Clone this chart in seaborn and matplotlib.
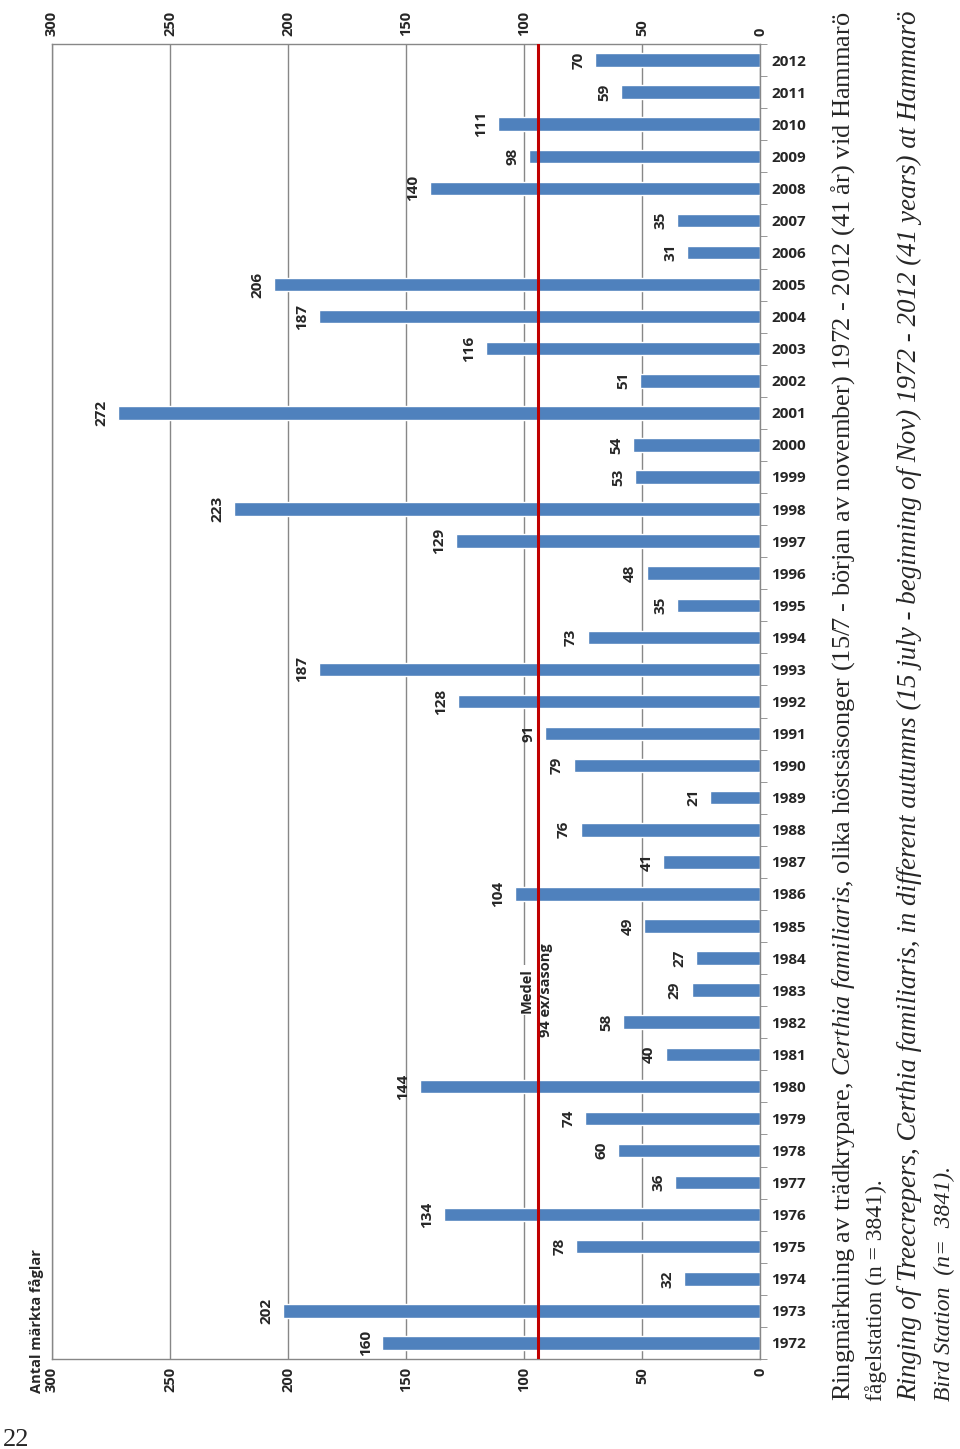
import matplotlib
matplotlib.use('Agg')
import matplotlib.pyplot as plt
import seaborn as sns
import pandas as pd

# Data: ringed treecreepers per autumn season
years = ['1972', '1973', '1974', '1975', '1976', '1977', '1978', '1979', '1980', '1981',
         '1982', '1983', '1984', '1985', '1986', '1987', '1988', '1989', '1990', '1991',
         '1992', '1993', '1994', '1995', '1996', '1997', '1998', '1999', '2000', '2001',
         '2002', '2003', '2004', '2005', '2006', '2007', '2008', '2009', '2010', '2011',
         '2012']
counts = [160, 202, 32, 78, 134, 36, 60, 74, 144, 40,
          58, 29, 27, 49, 104, 41, 76, 21, 79, 91,
          128, 187, 73, 35, 48, 129, 223, 53, 54, 272,
          51, 116, 187, 206, 31, 35, 140, 98, 111, 59,
          70]
mean_value = 94
value_ticks = [0, 50, 100, 150, 200, 250, 300]

df = pd.DataFrame({'År': years, 'Antal': counts})

sns.set_style('white')
plt.rcParams['font.family'] = ['Open Sans', 'DejaVu Sans']
plt.rcParams['mathtext.fontset'] = 'custom'
plt.rcParams['mathtext.rm'] = 'Liberation Serif'
plt.rcParams['mathtext.it'] = 'Liberation Serif:italic'

W, H = 960, 1449
fig = plt.figure(figsize=(W / 100, H / 100), dpi=100)
ax = fig.add_axes([52 / W, 90 / H, 708 / W, 1315 / H])

grid_col = '#878787'
sns.barplot(data=df, x='Antal', y='År', order=years[::-1], orient='h',
            color='#4F81BD', saturation=1, width=0.42, ax=ax, zorder=2)

ax.set_xlim(300, 0)
ax.set_xticks(value_ticks)
ax.set_xlabel('')
ax.set_ylabel('')
ax.grid(axis='x', color=grid_col, lw=1)
ax.set_axisbelow(True)
ax.tick_params(axis='x', which='major', top=True, bottom=True, labeltop=True,
               labelbottom=True, length=0, pad=6, labelrotation=90, labelsize=10.5)
for t in ax.xaxis.get_major_ticks():
    t.label1.set_fontweight('bold')
    t.label2.set_fontweight('bold')

# year labels on the right, boundary ticks between categories
ax.yaxis.tick_right()
ax.tick_params(axis='y', which='major', length=0, pad=8, labelsize=11)
for lbl in ax.get_yticklabels():
    lbl.set_fontweight('bold')
ax.set_yticks([i - 0.5 for i in range(len(years) + 1)], minor=True)
ax.tick_params(axis='y', which='minor', length=5, color=grid_col, right=True, left=False)

for side in ['top', 'bottom', 'right', 'left']:
    ax.spines[side].set_visible(True)
    ax.spines[side].set_color(grid_col)
    ax.spines[side].set_linewidth(1)

# value labels
for bar in ax.patches:
    v = bar.get_width()
    yc = bar.get_y() + bar.get_height() / 2
    ax.annotate(f'{int(round(v))}', xy=(v, yc), xytext=(-12, 0), textcoords='offset points',
                rotation=90, ha='center', va='center', fontsize=11, fontweight='bold')

# mean line and label
ax.axvline(mean_value, color='#C00000', lw=2.2, zorder=4)
ypos = years[::-1].index('1983')
ax.text(98.7, ypos, 'Medel', rotation=90, ha='center', va='center', fontsize=10.5,
        fontweight='bold', zorder=3,
        bbox=dict(facecolor='white', edgecolor='none', pad=2))
ax.text(90.6, ypos, '94 ex/säsong', rotation=90, ha='center', va='center', fontsize=10.5,
        fontweight='bold', zorder=3)

fig.text(37 / W, 56 / H, 'Antal märkta fåglar', rotation=90, ha='center', va='bottom',
         fontsize=10.5, fontweight='bold')

# captions
serif = ['Liberation Serif', 'DejaVu Serif']
base_y = (H - 1401) / H
cap1 = fig.text(843 / W, base_y,
                r'Ringmärkning av trädkrypare, $Certhia\ familiaris$, olika höstsäsonger '
                r'(15/7 - början av november) 1972 - 2012 (41 år) vid Hammarö',
                rotation=90, ha='center', va='bottom', fontsize=17, family=serif)
fig.text(876 / W, base_y, 'fågelstation (n = 3841).', rotation=90, ha='center',
         va='bottom', fontsize=17, family=serif)
cap3 = fig.text(910 / W, base_y,
                'Ringing of Treecrepers, Certhia familiaris, in different autumns '
                '(15 july - beginning of Nov) 1972 - 2012 (41 years) at Hammarö',
                rotation=90, ha='center', va='bottom', fontsize=17, family=serif,
                style='italic')
fig.text(944 / W, base_y, 'Bird Station  (n=  3841).', rotation=90, ha='center',
         va='bottom', fontsize=17, family=serif, style='italic')

# fit the two long lines to the page height
fig.canvas.draw()
r = fig.canvas.get_renderer()
for t in [cap1, cap3]:
    h = t.get_window_extent(r).height
    t.set_fontsize(t.get_fontsize() * 1394 / h)

fig.text(3 / W, 3 / H, '22', ha='left', va='baseline', fontsize=19, family=serif)

fig.savefig('out.png', dpi=100)
